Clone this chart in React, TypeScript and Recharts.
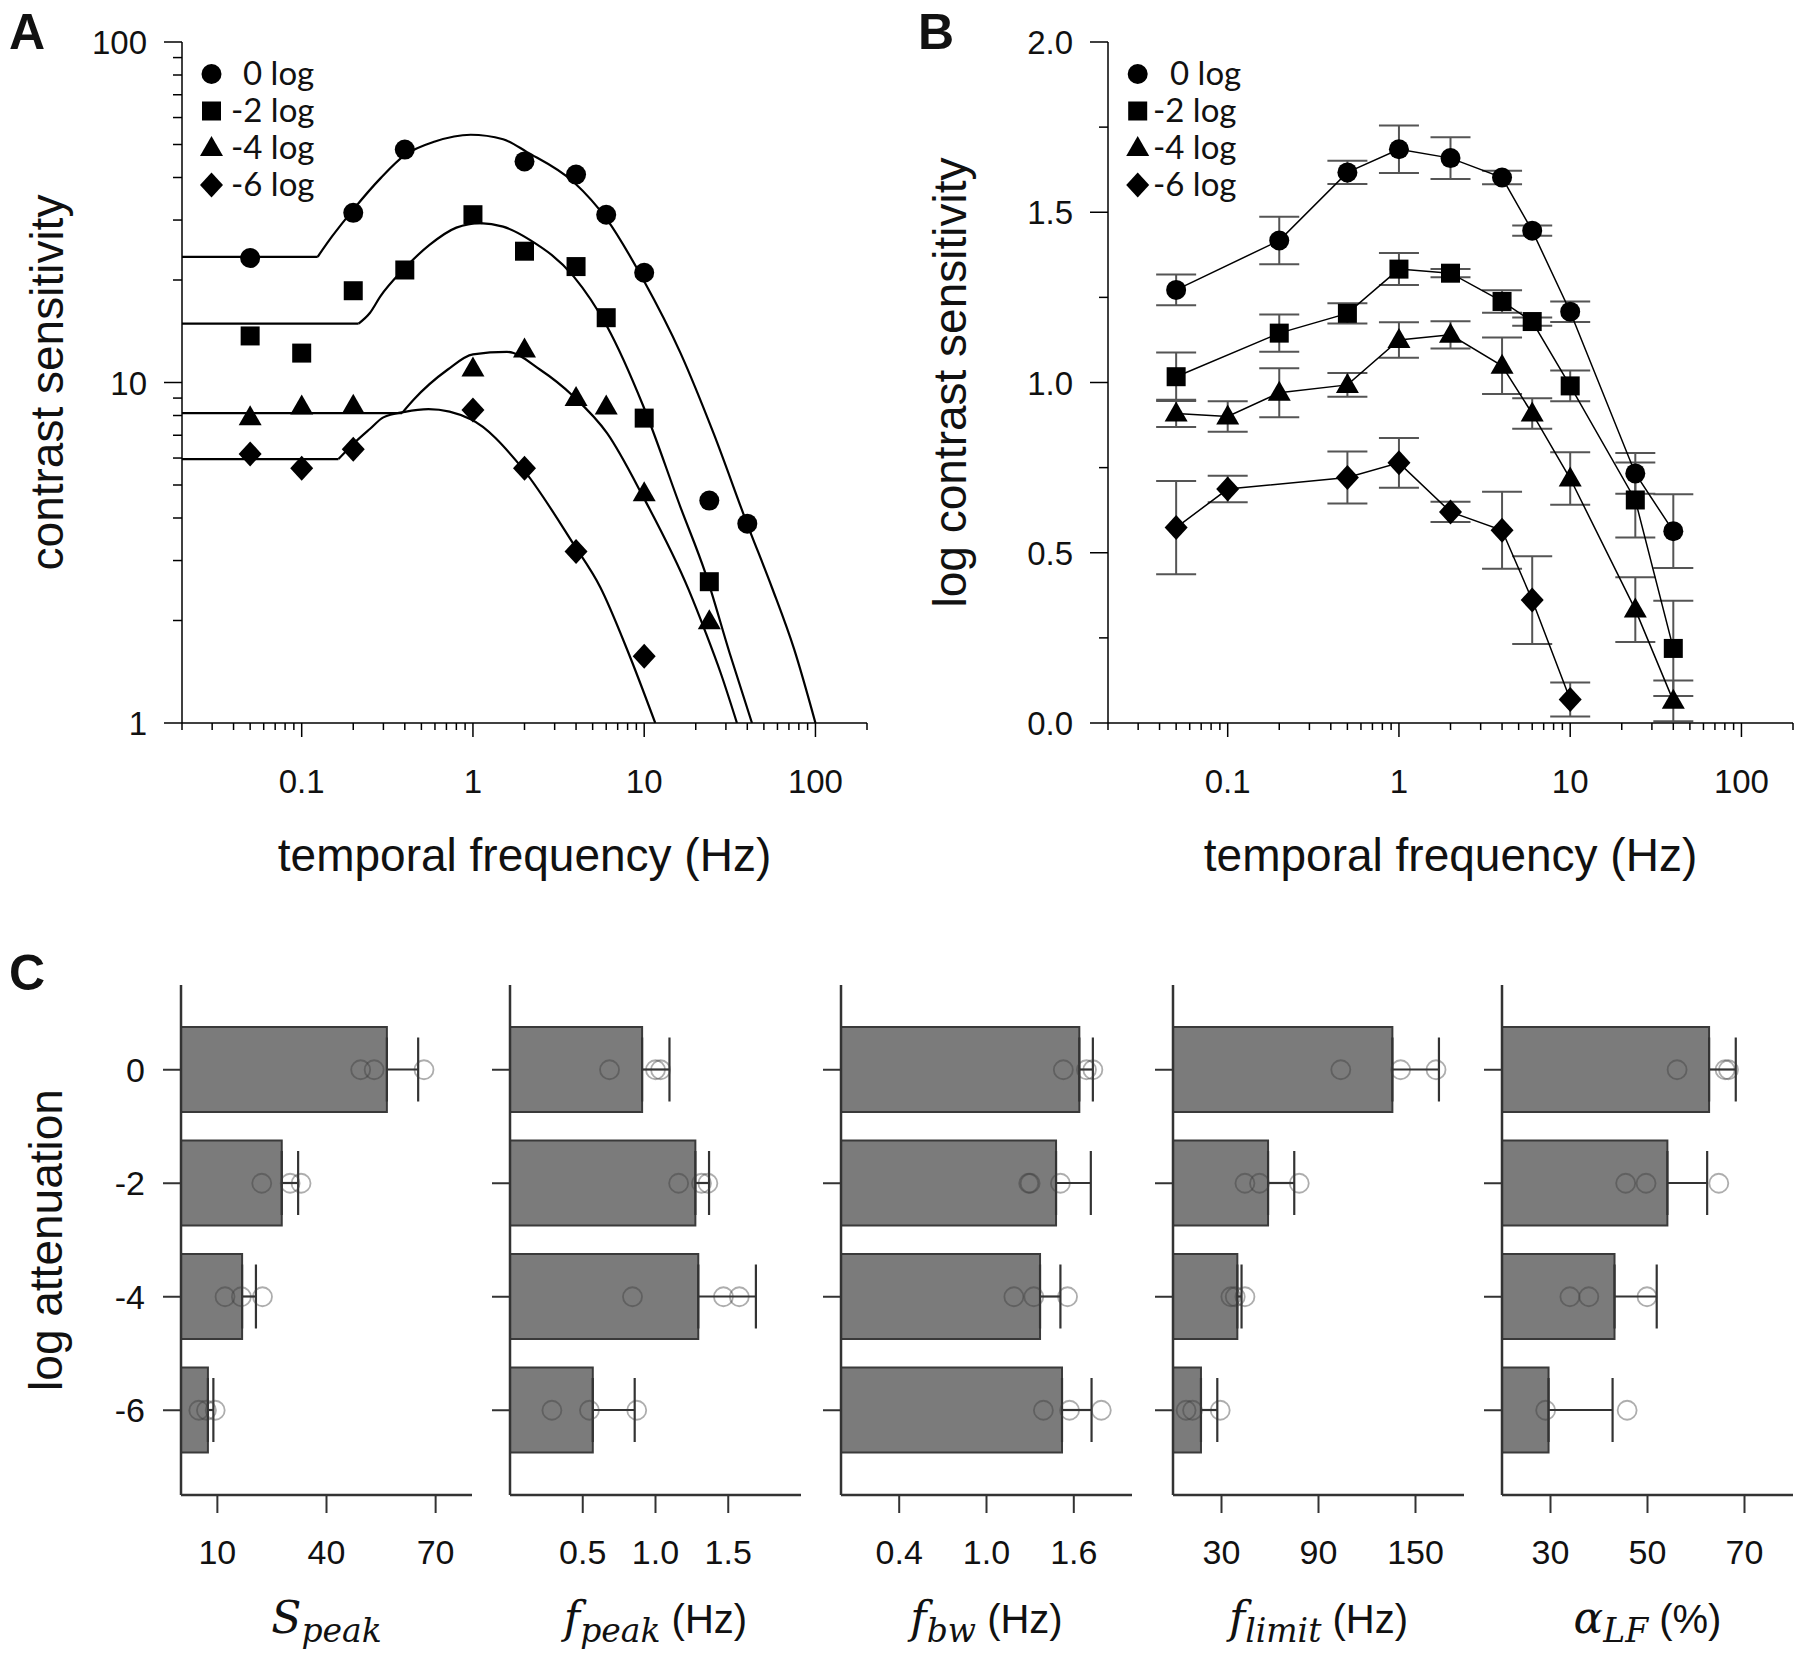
import React from 'react';
import { ComposedChart, Line, Scatter, XAxis, YAxis, ErrorBar, Bar, Label } from 'recharts';

const SANS = '"Liberation Sans", Arial, Helvetica, sans-serif';
const LEG = 'Lato, "Open Sans", sans-serif';
const SERIF = '"DejaVu Serif", serif';

// ---------------- Panel A : measured contrast sensitivity ----------------
const freqA0 = [0.05, 0.2, 0.4, 2, 4, 6, 10, 24, 40];
const sensA0 = [23.2, 31.5, 48.3, 44.6, 40.8, 31.1, 21.0, 4.5, 3.85];
const freqA2 = [0.05, 0.1, 0.2, 0.4, 1, 2, 4, 6, 10, 24];
const sensA2 = [13.7, 12.2, 18.6, 21.4, 31.1, 24.3, 21.9, 15.5, 7.86, 2.6];
const freqA4 = [0.05, 0.1, 0.2, 1, 2, 4, 6, 10, 24];
const sensA4 = [7.9, 8.5, 8.55, 11.0, 12.5, 9.0, 8.5, 4.73, 1.99];
const freqA6 = [0.05, 0.1, 0.2, 1, 2, 4, 10];
const sensA6 = [6.17, 5.6, 6.37, 8.3, 5.6, 3.19, 1.57];

// ---------------- Panel A : fitted curves ----------------
// flat low-frequency plateau of each fit
const flatFreq0 = [0.02, 0.124];
const flatSens0 = [23.4, 23.4];
const flatFreq2 = [0.02, 0.215];
const flatSens2 = [14.9, 14.9];
const flatFreq4 = [0.02, 0.385];
const flatSens4 = [8.13, 8.13];
const flatFreq6 = [0.02, 0.164];
const flatSens6 = [5.96, 5.96];
// band-pass part of each fit, from the plateau corner on
const fitFreq0 = [0.124, 0.15, 0.2, 0.29, 0.4, 0.6, 0.97, 1.5, 2.07, 3.87, 6.07, 9.9, 16.3, 25.4, 39.8, 55.7, 75, 100];
const fitSens0 = [23.4, 26.8, 32.2, 39.9, 46.5, 51.0, 53.4, 51.8, 47.5, 38.8, 30.1, 20.0, 12.2, 7.1, 3.86, 2.5, 1.65, 1.0];
const fitFreq2 = [0.215, 0.25, 0.288, 0.39, 0.56, 0.8, 1.1, 1.5, 2.16, 3.87, 6.07, 9.9, 16.3, 22.8, 31.6, 42.6];
const fitSens2 = [14.9, 16.0, 17.9, 21.4, 25.4, 28.5, 29.4, 28.7, 26.2, 20.5, 14.6, 8.5, 4.3, 2.75, 1.6, 1.0];
const fitFreq4 = [0.385, 0.45, 0.71, 1.0, 1.58, 2.47, 3.87, 6.07, 9.9, 18.2, 22.8, 28, 34.8];
const fitSens4 = [8.13, 8.9, 10.9, 12.1, 12.3, 10.9, 9.1, 7.1, 4.6, 2.46, 1.85, 1.4, 1.0];
const fitFreq6 = [0.164, 0.2, 0.25, 0.3, 0.4, 0.55, 0.97, 1.89, 3.87, 5.55, 8, 11.6];
const fitSens6 = [5.96, 6.6, 7.3, 7.9, 8.2, 8.35, 7.8, 5.7, 3.35, 2.5, 1.63, 1.0];

// ---------------- Panel B : log contrast sensitivity ± error ----------------
const freqB0 = [0.05, 0.2, 0.5, 1, 2, 4, 6, 10, 24, 40];
const logB0 = [1.272, 1.417, 1.617, 1.685, 1.659, 1.602, 1.446, 1.208, 0.733, 0.5635];
const errB0 = [0.045, 0.07, 0.034, 0.07, 0.061, 0.02, 0.015, 0.03, 0.06, 0.108];
const freqB2 = [0.05, 0.2, 0.5, 1, 2, 4, 6, 10, 24, 40];
const logB2 = [1.017, 1.145, 1.203, 1.333, 1.321, 1.238, 1.179, 0.99, 0.655, 0.219];
const errB2 = [0.071, 0.055, 0.03, 0.047, 0.012, 0.033, 0.012, 0.045, 0.11, 0.14];
const freqB4 = [0.05, 0.1, 0.2, 0.5, 1, 2, 4, 6, 10, 24, 40];
const logB4 = [0.909, 0.9, 0.97, 0.993, 1.125, 1.14, 1.049, 0.909, 0.718, 0.333, 0.065];
const errB4 = [0.04, 0.045, 0.072, 0.035, 0.052, 0.04, 0.083, 0.045, 0.077, 0.095, 0.06];
const freqB6 = [0.05, 0.1, 0.5, 1, 2, 4, 6, 10];
const logB6 = [0.574, 0.687, 0.721, 0.764, 0.62, 0.566, 0.361, 0.069];
const errB6 = [0.137, 0.039, 0.076, 0.073, 0.03, 0.113, 0.129, 0.05];

// ---------------- axis ticks ----------------
const freqTicks = [0.02, 0.03, 0.04, 0.05, 0.06, 0.07, 0.08, 0.09, 0.1, 0.2, 0.3, 0.4, 0.5, 0.6, 0.7, 0.8, 0.9, 1, 2, 3, 4, 5, 6, 7, 8, 9, 10, 20, 30, 40, 50, 60, 70, 80, 90, 100, 200];
const freqMajor = [0.1, 1, 10, 100];
const freqMajorLabels = ['0.1', '1', '10', '100'];
const sensTicks = [1, 2, 3, 4, 5, 6, 7, 8, 9, 10, 20, 30, 40, 50, 60, 70, 80, 90, 100];
const sensMajor = [1, 10, 100];
const sensMajorLabels = ['1', '10', '100'];
const logTicks = [0, 0.25, 0.5, 0.75, 1, 1.25, 1.5, 1.75, 2];
const logMajor = [0, 0.5, 1, 1.5, 2];
const logMajorLabels = ['0.0', '0.5', '1.0', '1.5', '2.0'];
const legendLabels = ['0 log', '-2 log', '-4 log', '-6 log'];

// ---------------- Panel C : fit parameters per attenuation ----------------
const attenCats = ['0', '-2', '-4', '-6'];
const speakMean = [56.6, 27.7, 16.8, 7.4];
const speakErr = [8.6, 4.5, 3.8, 1.5];
const speakPts = [[49.4, 53.1, 66.8], [22.2, 30.0, 33.0], [12.1, 16.6, 22.4], [4.9, 7.0, 9.4]];
const speakTicks = [10, 40, 70];
const fpeakMean = [0.908, 1.274, 1.294, 0.569];
const fpeakErr = [0.188, 0.094, 0.396, 0.288];
const fpeakPts = [[0.684, 1.0, 1.035], [1.159, 1.316, 1.36], [0.842, 1.467, 1.576], [0.288, 0.546, 0.871]];
const fpeakTicks = [0.5, 1.0, 1.5];
const fbwMean = [1.638, 1.478, 1.368, 1.519];
const fbwErr = [0.093, 0.239, 0.14, 0.203];
const fbwPts = [[1.528, 1.687, 1.731], [1.29, 1.3, 1.508], [1.188, 1.325, 1.557], [1.391, 1.571, 1.789]];
const fbwTicks = [0.4, 1.0, 1.6];
const flimitMean = [135.7, 58.8, 39.8, 17.3];
const flimitErr = [28.8, 16.2, 2.6, 10.1];
const flimitPts = [[103.8, 140.8, 162.7], [44.5, 53.5, 78.1], [35.8, 38.5, 44.5], [8.1, 12.1, 29.2]];
const flimitTicks = [30, 90, 150];
const alphaMean = [62.7, 54.1, 43.2, 29.6];
const alphaErr = [5.5, 8.2, 8.7, 13.2];
const alphaPts = [[56.1, 66.0, 66.7], [45.5, 49.7, 64.7], [34.0, 37.9, 49.9], [29.0, 45.8, null]];
const alphaTicks = [30, 50, 70];

// ---------------- helpers ----------------
const pts = (f: number[], v: number[], e?: number[]) => f.map((x, i) => ({ f: x, v: v[i], e: e ? e[i] : undefined }));
const near = (a: number, b: number) => Math.abs(a - b) < 1e-9;

function Glyph({ kind, cx, cy }: { kind: string; cx: number; cy: number }) {
  if (cx == null || cy == null || !isFinite(cx) || !isFinite(cy)) return <g />;
  if (kind === 'circle') return <circle cx={cx} cy={cy} r={10} fill="#000" />;
  if (kind === 'square') return <rect x={cx - 9.5} y={cy - 9.5} width={19} height={19} fill="#000" />;
  if (kind === 'triangle')
    return <polygon points={`${cx},${cy - 12} ${cx - 11.5},${cy + 8} ${cx + 11.5},${cy + 8}`} fill="#000" />;
  return <polygon points={`${cx},${cy - 12.5} ${cx + 11.5},${cy} ${cx},${cy + 12.5} ${cx - 11.5},${cy}`} fill="#000" />;
}
const shapeOf = (kind: string) => (p: any) => <Glyph kind={kind} cx={p.cx} cy={p.cy} />;
const kinds = ['circle', 'square', 'triangle', 'diamond'];

const ringShape = (p: any) => {
  if (p.cx == null || p.cy == null || !isFinite(p.cx) || !isFinite(p.cy)) return <g />;
  return <circle cx={p.cx} cy={p.cy} r={9.5} fill="none" stroke="rgba(60,60,60,0.42)" strokeWidth={1.8} />;
};

const makeXTick = (major: number[], labels: string[]) => (props: any) => {
  const { x, y, payload } = props;
  const idx = major.findIndex((m) => near(m, payload.value));
  const isMajor = idx >= 0;
  return (
    <g>
      <line x1={x} x2={x} y1={y} y2={y + (isMajor ? 14 : 7)} stroke="#000" strokeWidth={1.5} />
      {isMajor && (
        <text x={x} y={y + 70} textAnchor="middle" fontSize={33} fontFamily={SANS} fill="#111">
          {labels[idx]}
        </text>
      )}
    </g>
  );
};
const makeYTick = (major: number[], labels: string[]) => (props: any) => {
  const { x, y, payload } = props;
  const idx = major.findIndex((m) => near(m, payload.value));
  const isMajor = idx >= 0;
  return (
    <g>
      <line x1={x - (isMajor ? 18 : 9)} x2={x} y1={y} y2={y} stroke="#000" strokeWidth={1.5} />
      {isMajor && (
        <text x={x - 35} y={y + 12} textAnchor="end" fontSize={33} fontFamily={SANS} fill="#111">
          {labels[idx]}
        </text>
      )}
    </g>
  );
};

const xTitle = (text: string) => (p: any) => {
  const vb = p.viewBox || {};
  return (
    <text x={vb.x + vb.width / 2} y={vb.y + 148} textAnchor="middle" fontSize={46} fontFamily={SANS} fill="#111">
      {text}
    </text>
  );
};
const yTitle = (text: string, X: number) => (p: any) => {
  const vb = p.viewBox || {};
  const cy = vb.y + vb.height / 2;
  return (
    <text x={X} y={cy} transform={`rotate(-90, ${X}, ${cy})`} textAnchor="middle" fontSize={46} fontFamily={SANS} fill="#111">
      {text}
    </text>
  );
};

const frameLine = { stroke: '#8a8a8a', strokeWidth: 2.5 };
const axisLineBlack = { stroke: '#000', strokeWidth: 1.5 };

function PanelA() {
  const flats = [pts(flatFreq0, flatSens0), pts(flatFreq2, flatSens2), pts(flatFreq4, flatSens4), pts(flatFreq6, flatSens6)];
  const fits = [pts(fitFreq0, fitSens0), pts(fitFreq2, fitSens2), pts(fitFreq4, fitSens4), pts(fitFreq6, fitSens6)];
  const dots = [pts(freqA0, sensA0), pts(freqA2, sensA2), pts(freqA4, sensA4), pts(freqA6, sensA6)];
  return (
    <ComposedChart width={900} height={900} margin={{ top: 42, right: 33, bottom: 0, left: 0 }}>
      <XAxis dataKey="f" type="number" scale="log" domain={[0.02, 200]} allowDataOverflow ticks={freqTicks} interval={0}
        tick={makeXTick(freqMajor, freqMajorLabels)} tickLine={false} tickSize={0} tickMargin={0} axisLine={axisLineBlack} height={177}>
        <Label content={xTitle('temporal frequency (Hz)')} />
      </XAxis>
      <XAxis xAxisId="top" orientation="top" type="number" domain={[0, 1]} tick={false} tickLine={false} axisLine={frameLine} height={0} />
      <YAxis type="number" scale="log" domain={[1, 100]} allowDataOverflow ticks={sensTicks} interval={0}
        tick={makeYTick(sensMajor, sensMajorLabels)} tickLine={false} tickSize={0} tickMargin={0} axisLine={axisLineBlack} width={182}>
        <Label content={yTitle('contrast sensitivity', 63)} />
      </YAxis>
      <YAxis yAxisId="right" orientation="right" type="number" domain={[0, 1]} tick={false} tickLine={false} axisLine={frameLine} width={0} />
      {flats.map((d, i) => (
        <Line key={'flat' + i} data={d} dataKey="v" type="linear" stroke="#000" strokeWidth={2.2} dot={false} isAnimationActive={false} />
      ))}
      {fits.map((d, i) => (
        <Line key={'fit' + i} data={d} dataKey="v" type="monotone" stroke="#000" strokeWidth={2.2} dot={false} isAnimationActive={false} />
      ))}
      {dots.map((d, i) => (
        <Scatter key={'pt' + i} data={d} dataKey="v" shape={shapeOf(kinds[i])} isAnimationActive={false} />
      ))}
    </ComposedChart>
  );
}

function PanelB() {
  const series = [pts(freqB0, logB0, errB0), pts(freqB2, logB2, errB2), pts(freqB4, logB4, errB4), pts(freqB6, logB6, errB6)];
  return (
    <ComposedChart width={900} height={900} margin={{ top: 42, right: 7, bottom: 0, left: 0 }}>
      <XAxis dataKey="f" type="number" scale="log" domain={[0.02, 200]} allowDataOverflow ticks={freqTicks} interval={0}
        tick={makeXTick(freqMajor, freqMajorLabels)} tickLine={false} tickSize={0} tickMargin={0} axisLine={axisLineBlack} height={177}>
        <Label content={xTitle('temporal frequency (Hz)')} />
      </XAxis>
      <XAxis xAxisId="top" orientation="top" type="number" domain={[0, 1]} tick={false} tickLine={false} axisLine={frameLine} height={0} />
      <YAxis type="number" domain={[0, 2]} allowDataOverflow ticks={logTicks} interval={0}
        tick={makeYTick(logMajor, logMajorLabels)} tickLine={false} tickSize={0} tickMargin={0} axisLine={axisLineBlack} width={208}>
        <Label content={yTitle('log contrast sensitivity', 66)} />
      </YAxis>
      <YAxis yAxisId="right" orientation="right" type="number" domain={[0, 1]} tick={false} tickLine={false} axisLine={frameLine} width={0} />
      {series.map((d, i) => (
        <Scatter key={'b' + i} data={d} dataKey="v" shape={shapeOf(kinds[i])} line={{ stroke: '#000', strokeWidth: 1.5 }} isAnimationActive={false}>
          <ErrorBar dataKey="e" direction="y" width={20} stroke="#555" strokeWidth={2} />
        </Scatter>
      ))}
    </ComposedChart>
  );
}

type PanelCfg = {
  mean: number[]; err: number[]; pts: (number | null)[][]; ticks: number[]; domain: [number, number];
  dec: number; main: string; sub: string; unit: string;
};
const panelsC: PanelCfg[] = [
  { mean: speakMean, err: speakErr, pts: speakPts, ticks: speakTicks, domain: [0, 80], dec: 0, main: 'S', sub: 'peak', unit: '' },
  { mean: fpeakMean, err: fpeakErr, pts: fpeakPts, ticks: fpeakTicks, domain: [0, 2], dec: 1, main: 'f', sub: 'peak', unit: '(Hz)' },
  { mean: fbwMean, err: fbwErr, pts: fbwPts, ticks: fbwTicks, domain: [0, 2], dec: 1, main: 'f', sub: 'bw', unit: '(Hz)' },
  { mean: flimitMean, err: flimitErr, pts: flimitPts, ticks: flimitTicks, domain: [0, 180], dec: 0, main: 'f', sub: 'limit', unit: '(Hz)' },
  { mean: alphaMean, err: alphaErr, pts: alphaPts, ticks: alphaTicks, domain: [20, 80], dec: 0, main: '\u03B1', sub: 'LF', unit: '(%)' },
];
const plotLeftsC = [181, 510, 841, 1173, 1502];
const plotWidthC = 291;
const boxLine = { stroke: '#333', strokeWidth: 2.5 };

function BarPanel({ cfg, first, yw }: { cfg: PanelCfg; first: boolean; yw: number }) {
  const rows = attenCats.map((c, i) => ({
    cat: c, m: cfg.mean[i], err: [0, cfg.err[i]],
    p1: cfg.pts[i][0], p2: cfg.pts[i][1], p3: cfg.pts[i][2],
  }));
  const xTick = (props: any) => {
    const { x, y, payload } = props;
    return (
      <g>
        <line x1={x} x2={x} y1={y} y2={y + 18} stroke="#333" strokeWidth={2} />
        <text x={x} y={y + 69} textAnchor="middle" fontSize={34} fontFamily={SANS} fill="#111">
          {Number(payload.value).toFixed(cfg.dec)}
        </text>
      </g>
    );
  };
  const yTick = (props: any) => {
    const { x, y, payload } = props;
    return (
      <g>
        <line x1={x - 18} x2={x} y1={y} y2={y} stroke="#333" strokeWidth={2} />
        {first && (
          <text x={x - 36} y={y + 12} textAnchor="end" fontSize={34} fontFamily={SANS} fill="#111">
            {payload.value}
          </text>
        )}
      </g>
    );
  };
  const title = (p: any) => {
    const vb = p.viewBox || {};
    return (
      <text x={vb.x + vb.width / 2} y={vb.y + 138} textAnchor="middle" fill="#111">
        <tspan fontFamily={SERIF} fontStyle="italic" fontSize={44}>{cfg.main}</tspan>
        <tspan fontFamily={SERIF} fontStyle="italic" fontSize={33} dy={9}>{cfg.sub}</tspan>
        {cfg.unit && <tspan fontFamily={SANS} fontSize={40} dy={-9}>{' ' + cfg.unit}</tspan>}
      </text>
    );
  };
  return (
    <ComposedChart layout="vertical" width={yw + plotWidthC} height={717} data={rows} margin={{ top: 45, right: 0, bottom: 0, left: 0 }}>
      <XAxis type="number" domain={cfg.domain} allowDataOverflow ticks={cfg.ticks} interval={0} tick={xTick}
        tickLine={false} tickSize={0} tickMargin={0} axisLine={boxLine} height={162}>
        <Label content={title} />
      </XAxis>
      <XAxis xAxisId="t" orientation="top" type="number" domain={[0, 1]} tick={false} tickLine={false} axisLine={boxLine} height={0} />
      <YAxis type="category" dataKey="cat" width={yw} padding={{ top: 28, bottom: 28 }} interval={0} tick={yTick}
        tickLine={false} tickSize={0} tickMargin={0} axisLine={boxLine}>
        {first && <Label content={yTitle('log attenuation', 62)} />}
      </YAxis>
      <YAxis yAxisId="r" orientation="right" type="number" domain={[0, 1]} tick={false} tickLine={false} axisLine={boxLine} width={0} />
      <Bar dataKey="m" barSize={85} fill="#7b7b7b" stroke="#3a3a3a" strokeWidth={2} isAnimationActive={false}>
        <ErrorBar dataKey="err" direction="x" width={32} stroke="#333" strokeWidth={2.2} />
      </Bar>
      <Scatter dataKey="p1" shape={ringShape} isAnimationActive={false} />
      <Scatter dataKey="p2" shape={ringShape} isAnimationActive={false} />
      <Scatter dataKey="p3" shape={ringShape} isAnimationActive={false} />
    </ComposedChart>
  );
}

function LegendBlock({ mx, tx0, tx }: { mx: number; tx0: number; tx: number }) {
  const rows = [74, 111, 148, 185];
  return (
    <g>
      {legendLabels.map((lab, i) => (
        <g key={lab}>
          <Glyph kind={kinds[i]} cx={mx} cy={rows[i]} />
          <text x={i === 0 ? tx0 : tx} y={rows[i] + 11} fontSize={33} fontFamily={LEG} fill="#111">{lab}</text>
        </g>
      ))}
    </g>
  );
}

export default function App() {
  return (
    <div style={{ position: 'absolute', left: 0, top: 0, width: 1800, height: 1657, background: '#fff', overflow: 'hidden' }}>
      <div style={{ position: 'absolute', left: 0, top: 0 }}><PanelA /></div>
      <div style={{ position: 'absolute', left: 900, top: 0 }}><PanelB /></div>
      {panelsC.map((cfg, i) => {
        const yw = i === 0 ? 181 : 60;
        return (
          <div key={i} style={{ position: 'absolute', left: plotLeftsC[i] - yw, top: 940 }}>
            <BarPanel cfg={cfg} first={i === 0} yw={yw} />
          </div>
        );
      })}
      <svg width={1800} height={1657} style={{ position: 'absolute', left: 0, top: 0, pointerEvents: 'none' }}>
        <text x={9} y={49} fontSize={50} fontWeight="bold" fontFamily={SANS} fill="#111">A</text>
        <text x={918} y={49} fontSize={50} fontWeight="bold" fontFamily={SANS} fill="#111">B</text>
        <text x={9} y={990} fontSize={50} fontWeight="bold" fontFamily={SANS} fill="#111">C</text>
        <LegendBlock mx={211.5} tx0={243} tx={231} />
        <LegendBlock mx={1137.7} tx0={1170} tx={1153} />
      </svg>
    </div>
  );
}
